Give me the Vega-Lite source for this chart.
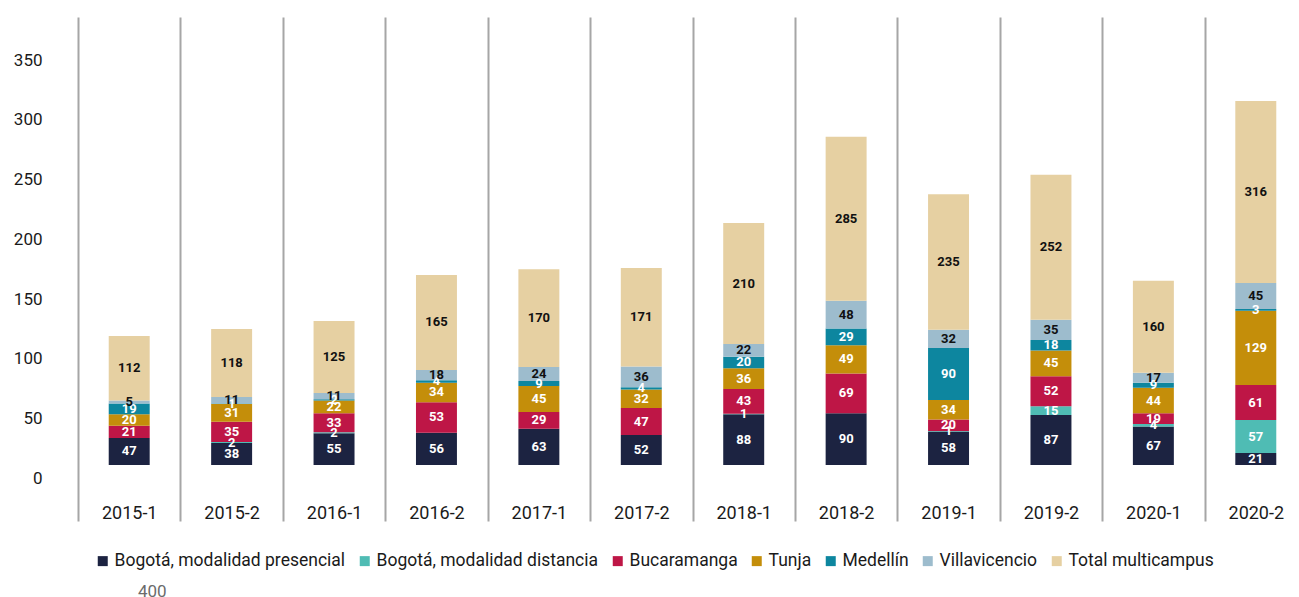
{
  "$schema": "https://vega.github.io/schema/vega-lite/v6.json",
  "width": 1221,
  "height": 504,
  "autosize": {"type": "none"},
  "padding": {"left": 78, "top": 17, "right": 0, "bottom": 76},
  "background": "white",
  "config": {
    "view": {"stroke": null},
    "font": "Roboto",
    "legend": {
      "orient": "none",
      "legendX": 16,
      "legendY": 535,
      "direction": "horizontal",
      "title": null,
      "symbolType": "square",
      "symbolSize": 100,
      "symbolStrokeWidth": 0,
      "labelFont": "Roboto",
      "labelFontSize": 17.5,
      "labelColor": "#1a1a1a",
      "labelOffset": 3,
      "columnPadding": 10,
      "labelLimit": 400
    }
  },
  "datasets": {
    "rows": [
      {"period": "2015-1", "series": "Bogotá, modalidad presencial", "value": 47},
      {"period": "2015-1", "series": "Bogotá, modalidad distancia", "value": 0},
      {"period": "2015-1", "series": "Bucaramanga", "value": 21},
      {"period": "2015-1", "series": "Tunja", "value": 20},
      {"period": "2015-1", "series": "Medellín", "value": 19},
      {"period": "2015-1", "series": "Villavicencio", "value": 5},
      {"period": "2015-1", "series": "Total multicampus", "value": 112},
      {"period": "2015-2", "series": "Bogotá, modalidad presencial", "value": 38},
      {"period": "2015-2", "series": "Bogotá, modalidad distancia", "value": 2},
      {"period": "2015-2", "series": "Bucaramanga", "value": 35},
      {"period": "2015-2", "series": "Tunja", "value": 31},
      {"period": "2015-2", "series": "Medellín", "value": 1},
      {"period": "2015-2", "series": "Villavicencio", "value": 11},
      {"period": "2015-2", "series": "Total multicampus", "value": 118},
      {"period": "2016-1", "series": "Bogotá, modalidad presencial", "value": 55},
      {"period": "2016-1", "series": "Bogotá, modalidad distancia", "value": 2},
      {"period": "2016-1", "series": "Bucaramanga", "value": 33},
      {"period": "2016-1", "series": "Tunja", "value": 22},
      {"period": "2016-1", "series": "Medellín", "value": 2},
      {"period": "2016-1", "series": "Villavicencio", "value": 11},
      {"period": "2016-1", "series": "Total multicampus", "value": 125},
      {"period": "2016-2", "series": "Bogotá, modalidad presencial", "value": 56},
      {"period": "2016-2", "series": "Bogotá, modalidad distancia", "value": 0},
      {"period": "2016-2", "series": "Bucaramanga", "value": 53},
      {"period": "2016-2", "series": "Tunja", "value": 34},
      {"period": "2016-2", "series": "Medellín", "value": 4},
      {"period": "2016-2", "series": "Villavicencio", "value": 18},
      {"period": "2016-2", "series": "Total multicampus", "value": 165},
      {"period": "2017-1", "series": "Bogotá, modalidad presencial", "value": 63},
      {"period": "2017-1", "series": "Bogotá, modalidad distancia", "value": 0},
      {"period": "2017-1", "series": "Bucaramanga", "value": 29},
      {"period": "2017-1", "series": "Tunja", "value": 45},
      {"period": "2017-1", "series": "Medellín", "value": 9},
      {"period": "2017-1", "series": "Villavicencio", "value": 24},
      {"period": "2017-1", "series": "Total multicampus", "value": 170},
      {"period": "2017-2", "series": "Bogotá, modalidad presencial", "value": 52},
      {"period": "2017-2", "series": "Bogotá, modalidad distancia", "value": 0},
      {"period": "2017-2", "series": "Bucaramanga", "value": 47},
      {"period": "2017-2", "series": "Tunja", "value": 32},
      {"period": "2017-2", "series": "Medellín", "value": 4},
      {"period": "2017-2", "series": "Villavicencio", "value": 36},
      {"period": "2017-2", "series": "Total multicampus", "value": 171},
      {"period": "2018-1", "series": "Bogotá, modalidad presencial", "value": 88},
      {"period": "2018-1", "series": "Bogotá, modalidad distancia", "value": 1},
      {"period": "2018-1", "series": "Bucaramanga", "value": 43},
      {"period": "2018-1", "series": "Tunja", "value": 36},
      {"period": "2018-1", "series": "Medellín", "value": 20},
      {"period": "2018-1", "series": "Villavicencio", "value": 22},
      {"period": "2018-1", "series": "Total multicampus", "value": 210},
      {"period": "2018-2", "series": "Bogotá, modalidad presencial", "value": 90},
      {"period": "2018-2", "series": "Bogotá, modalidad distancia", "value": 0},
      {"period": "2018-2", "series": "Bucaramanga", "value": 69},
      {"period": "2018-2", "series": "Tunja", "value": 49},
      {"period": "2018-2", "series": "Medellín", "value": 29},
      {"period": "2018-2", "series": "Villavicencio", "value": 48},
      {"period": "2018-2", "series": "Total multicampus", "value": 285},
      {"period": "2019-1", "series": "Bogotá, modalidad presencial", "value": 58},
      {"period": "2019-1", "series": "Bogotá, modalidad distancia", "value": 1},
      {"period": "2019-1", "series": "Bucaramanga", "value": 20},
      {"period": "2019-1", "series": "Tunja", "value": 34},
      {"period": "2019-1", "series": "Medellín", "value": 90},
      {"period": "2019-1", "series": "Villavicencio", "value": 32},
      {"period": "2019-1", "series": "Total multicampus", "value": 235},
      {"period": "2019-2", "series": "Bogotá, modalidad presencial", "value": 87},
      {"period": "2019-2", "series": "Bogotá, modalidad distancia", "value": 15},
      {"period": "2019-2", "series": "Bucaramanga", "value": 52},
      {"period": "2019-2", "series": "Tunja", "value": 45},
      {"period": "2019-2", "series": "Medellín", "value": 18},
      {"period": "2019-2", "series": "Villavicencio", "value": 35},
      {"period": "2019-2", "series": "Total multicampus", "value": 252},
      {"period": "2020-1", "series": "Bogotá, modalidad presencial", "value": 67},
      {"period": "2020-1", "series": "Bogotá, modalidad distancia", "value": 4},
      {"period": "2020-1", "series": "Bucaramanga", "value": 19},
      {"period": "2020-1", "series": "Tunja", "value": 44},
      {"period": "2020-1", "series": "Medellín", "value": 9},
      {"period": "2020-1", "series": "Villavicencio", "value": 17},
      {"period": "2020-1", "series": "Total multicampus", "value": 160},
      {"period": "2020-2", "series": "Bogotá, modalidad presencial", "value": 21},
      {"period": "2020-2", "series": "Bogotá, modalidad distancia", "value": 57},
      {"period": "2020-2", "series": "Bucaramanga", "value": 61},
      {"period": "2020-2", "series": "Tunja", "value": 129},
      {"period": "2020-2", "series": "Medellín", "value": 3},
      {"period": "2020-2", "series": "Villavicencio", "value": 45},
      {"period": "2020-2", "series": "Total multicampus", "value": 316}
    ],
    "seriesOrder": [
      {"series": "Bogotá, modalidad presencial", "rank": 1},
      {"series": "Bogotá, modalidad distancia", "rank": 2},
      {"series": "Bucaramanga", "rank": 3},
      {"series": "Tunja", "rank": 4},
      {"series": "Medellín", "rank": 5},
      {"series": "Villavicencio", "rank": 6},
      {"series": "Total multicampus", "rank": 7}
    ],
    "stray": [
      {"label": "400", "v": -220}
    ]
  },
  "layer": [
    {
      "data": {"name": "rows"},
      "transform": [
        {"lookup": "series", "from": {"data": {"name": "seriesOrder"}, "key": "series", "fields": ["rank"]}}
      ],
      "mark": {"type": "bar", "width": {"band": 0.4}},
      "encoding": {
        "x": {
          "field": "period",
          "type": "nominal",
          "sort": null,
          "title": null,
          "scale": {"paddingInner": 0, "paddingOuter": 0, "range": [0, 1229]},
          "axis": {
            "orient": "bottom",
            "domain": false,
            "ticks": false,
            "grid": true,
            "tickBand": "extent",
            "gridColor": "#a6a6a6",
            "gridWidth": 2,
            "labelAngle": 0,
            "labelPadding": -8,
            "labelBaseline": "middle",
            "labelFontSize": 18,
            "labelColor": "#1a1a1a",
            "labelFont": "Roboto"
          }
        },
        "y": {
          "field": "value",
          "type": "quantitative",
          "stack": "zero",
          "title": null,
          "scale": {"domain": [-97.2, 777.8], "nice": false, "zero": false},
          "axis": {
            "values": [-22.6, 81, 184.6, 288.2, 391.8, 495.4, 599, 702.6],
            "labelExpr": "format(round((datum.value + 22.6) / 103.6) * 50, 'd')",
            "domain": false,
            "ticks": false,
            "grid": false,
            "labelPadding": 36,
            "labelFontSize": 17,
            "labelColor": "#1a1a1a",
            "labelFont": "Roboto"
          }
        },
        "color": {
          "field": "series",
          "type": "nominal",
          "sort": ["Bogotá, modalidad presencial", "Bogotá, modalidad distancia", "Bucaramanga", "Tunja", "Medellín", "Villavicencio", "Total multicampus"],
          "scale": {
            "domain": ["Bogotá, modalidad presencial", "Bogotá, modalidad distancia", "Bucaramanga", "Tunja", "Medellín", "Villavicencio", "Total multicampus"],
            "range": ["#1c2341", "#4fbcb4", "#be1646", "#c48e0a", "#0d869f", "#9dbccd", "#e6d0a2"]
          }
        },
        "order": {"field": "rank", "type": "quantitative", "sort": "ascending"}
      }
    },
    {
      "data": {"name": "rows"},
      "transform": [
        {"lookup": "series", "from": {"data": {"name": "seriesOrder"}, "key": "series", "fields": ["rank"]}},
        {"filter": "datum.value > 0"}
      ],
      "mark": {"type": "text", "font": "Roboto", "fontWeight": "bold", "fontSize": 13, "baseline": "middle", "align": "center"},
      "encoding": {
        "x": {"field": "period", "type": "nominal", "sort": null, "title": null},
        "y": {
          "field": "value",
          "type": "quantitative",
          "stack": "zero",
          "bandPosition": 0.5,
          "title": null,
          "scale": {"domain": [-97.2, 777.8], "nice": false, "zero": false}
        },
        "color": {
          "field": "series",
          "type": "nominal",
          "sort": ["Bogotá, modalidad presencial", "Bogotá, modalidad distancia", "Bucaramanga", "Tunja", "Medellín", "Villavicencio", "Total multicampus"]
        },
        "order": {"field": "rank", "type": "quantitative", "sort": "ascending"},
        "fill": {
          "condition": {"test": "datum.series === 'Villavicencio' || datum.series === 'Total multicampus'", "value": "#111111"},
          "value": "#ffffff"
        },
        "text": {"field": "value", "type": "quantitative"}
      }
    },
    {
      "data": {"name": "stray"},
      "mark": {"type": "text", "font": "Roboto", "fontSize": 17, "color": "#6b6b6b", "dx": 23, "baseline": "middle"},
      "encoding": {
        "x": {"datum": "2015-1"},
        "y": {
          "field": "v",
          "type": "quantitative",
          "title": null,
          "scale": {"domain": [-97.2, 777.8], "nice": false, "zero": false}
        },
        "text": {"field": "label"}
      }
    }
  ]
}
